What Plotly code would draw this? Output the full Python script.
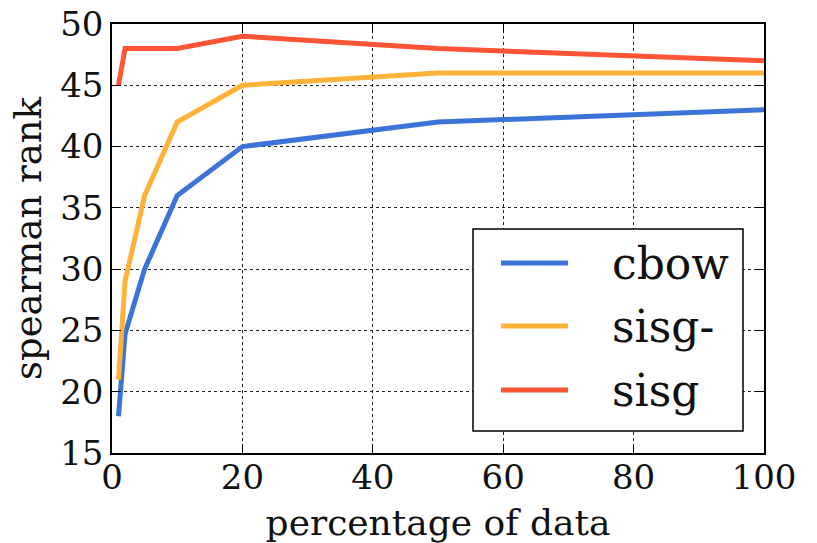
import plotly.graph_objects as go

pct = [1, 2, 5, 10, 20, 50, 100]
cbow = [18, 24.7, 30, 36, 40, 42, 43]
sisg_minus = [21, 29, 36, 42, 45, 46, 46]
sisg = [45, 48, 48, 48, 49, 48, 47]

names = ["cbow", "sisg-", "sisg"]
series = [cbow, sisg_minus, sisg]
colors = ["#3b74d6", "#fdb238", "#fd5535"]

xticks = [0, 20, 40, 60, 80, 100]
yticks = [15, 20, 25, 30, 35, 40, 45, 50]

FONT = "DejaVu Serif, serif"
W, H = 817, 543
# plot area in page pixels: left 112, right 764, top 24, bottom 453
L, T = 112, 24
R = W - 764
B = H - 453

fig = go.Figure()
for n, s, c in zip(names, series, colors):
    fig.add_trace(go.Scatter(x=pct, y=s, name=n, mode="lines",
                             line=dict(color=c, width=5), showlegend=False))

axis_common = dict(
    showline=True, linecolor="black", linewidth=1.5, mirror="ticks",
    ticks="inside", ticklen=9, tickwidth=1.2, tickcolor="black",
    showgrid=True, gridcolor="#222", griddash="dot", gridwidth=1,
    zeroline=False, tickfont=dict(family=FONT, size=34, color="#111"),
    ticklabeloverflow="allow",
)
fig.update_xaxes(range=[0, 100], tickvals=xticks, **axis_common, ticklabelstandoff=-7,
                 title=dict(text="percentage of data", font=dict(family=FONT, size=36, color="#111"), standoff=14))
fig.update_yaxes(range=[15, 50], tickvals=yticks, **axis_common,
                 title=dict(text="spearman rank", font=dict(family=FONT, size=37, color="#111"), standoff=7))

pw, ph = W - L - R, H - T - B
def px(x): return (x - L) / pw
def py(y): return 1 - (y - T) / ph

fig.add_shape(type="rect", xref="paper", yref="paper",
              x0=px(473), x1=px(743), y0=py(431), y1=py(229),
              line=dict(color="black", width=1.5), fillcolor="white", layer="above")
entry_y = [263, 326, 390]
for n, c, ey in zip(names, colors, entry_y):
    fig.add_shape(type="line", xref="paper", yref="paper",
                  x0=px(501), x1=px(568), y0=py(ey), y1=py(ey),
                  line=dict(color=c, width=5), layer="above")
    fig.add_annotation(xref="paper", yref="paper", x=px(610), y=py(ey),
                       text=n, showarrow=False, xanchor="left", yanchor="middle",
                       font=dict(family=FONT, size=44, color="#111"))

fig.update_layout(
    width=W, height=H, margin=dict(l=L, r=R, t=T, b=B, autoexpand=False),
    plot_bgcolor="white", paper_bgcolor="white",
)
fig.write_html("out.html", config={"displayModeBar": False},
               post_script="document.body.style.margin='0px';")
